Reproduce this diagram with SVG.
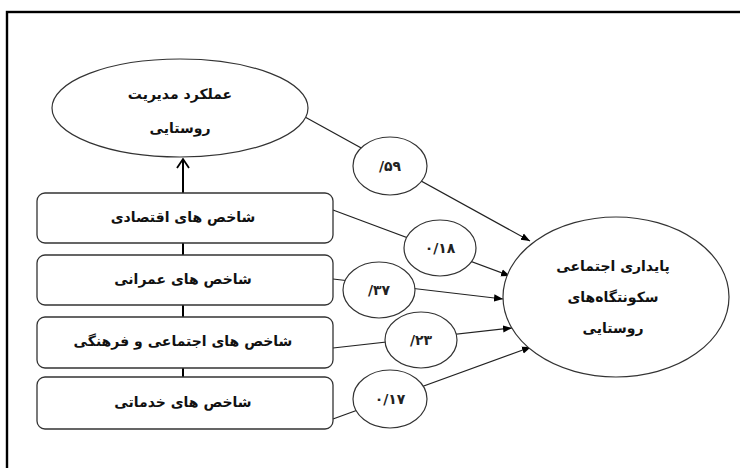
<svg xmlns="http://www.w3.org/2000/svg" width="740" height="468" viewBox="0 0 740 468">
<defs>
<marker id="tri" viewBox="0 0 10 10" refX="10" refY="5" markerWidth="9" markerHeight="9" markerUnits="userSpaceOnUse" orient="auto">
<path d="M0,1 L10,5 L0,9 Z" fill="#000"/>
</marker>
<marker id="open" viewBox="0 0 10 10" refX="5" refY="1" markerWidth="10" markerHeight="10" markerUnits="userSpaceOnUse" orient="auto-start-reverse">
<path d="M1,5 L9,1 L1,-3" fill="none" stroke="#000" stroke-width="1.6"/>
</marker>
<style>
.frame{fill:none;stroke:#000;stroke-width:2.4}
.box{fill:#fff;stroke:#333;stroke-width:1.3}
.ell{fill:#fff;stroke:#333;stroke-width:1.2}
.t{font-family:"DejaVu Sans",sans-serif;font-weight:bold;font-size:14px;fill:#111;text-anchor:middle;dominant-baseline:central}
.n{font-family:"DejaVu Sans",sans-serif;font-weight:bold;font-size:14px;fill:#222;text-anchor:middle;dominant-baseline:central;direction:ltr}
.c{stroke:#222;stroke-width:1.2;fill:none}
.v{stroke:#000;stroke-width:2;fill:none}
</style>
</defs>
<rect x="0" y="0" width="740" height="468" fill="#fff"/>
<rect class="frame" x="7" y="12" width="750" height="470"/>

<g id="connectors">
<line class="c" x1="305" y1="117" x2="530" y2="241" marker-end="url(#tri)"/>
<line class="c" x1="333" y1="210" x2="510" y2="276" marker-end="url(#tri)"/>
<line class="c" x1="333" y1="279" x2="503" y2="299" marker-end="url(#tri)"/>
<line class="c" x1="333" y1="348" x2="512" y2="328" marker-end="url(#tri)"/>
<line class="c" x1="333" y1="419" x2="531" y2="347" marker-end="url(#tri)"/>
<line class="v" x1="183" y1="193" x2="183" y2="160"/>
<path d="M177,168 L183,159 L189,168" fill="none" stroke="#000" stroke-width="1.8"/>
<line class="v" x1="183" y1="243" x2="183" y2="255"/>
<line class="v" x1="183" y1="305" x2="183" y2="317"/>
<line class="v" x1="183" y1="368" x2="183" y2="377"/>
</g>

<g id="node-management">
<ellipse class="ell" cx="180" cy="108" rx="128" ry="49"/>
<text class="t" x="180" y="94">عملکرد مدیریت</text>
<text class="t" x="180" y="128">روستایی</text>
</g>

<g id="node-economic">
<rect class="box" x="37" y="193" width="296" height="50" rx="8"/>
<text class="t" x="183" y="217">شاخص های اقتصادی</text>
</g>
<g id="node-construction">
<rect class="box" x="37" y="255" width="296" height="50" rx="8"/>
<text class="t" x="183" y="279">شاخص های عمرانی</text>
</g>
<g id="node-social">
<rect class="box" x="37" y="317" width="296" height="51" rx="8"/>
<text class="t" x="183" y="341">شاخص های اجتماعی و فرهنگی</text>
</g>
<g id="node-services">
<rect class="box" x="37" y="377" width="296" height="52" rx="8"/>
<text class="t" x="183" y="402">شاخص های خدماتی</text>
</g>

<g id="node-sustainability">
<ellipse class="ell" cx="616" cy="297" rx="113" ry="80"/>
<text class="t" x="613" y="266">پایداری اجتماعی</text>
<text class="t" x="613" y="297">سکونتگاه‌های</text>
<text class="t" x="613" y="328">روستایی</text>
</g>

<g id="label-59">
<ellipse class="ell" cx="390" cy="166" rx="37" ry="29"/>
<text class="n" x="390" y="166">/۵۹</text>
</g>
<g id="label-18">
<ellipse class="ell" cx="440" cy="248" rx="36" ry="28"/>
<text class="n" x="440" y="248">۰/۱۸</text>
</g>
<g id="label-37">
<ellipse class="ell" cx="379" cy="290" rx="36" ry="28"/>
<text class="n" x="379" y="290">/۳۷</text>
</g>
<g id="label-23">
<ellipse class="ell" cx="421" cy="340" rx="36" ry="28"/>
<text class="n" x="421" y="340">/۲۳</text>
</g>
<g id="label-17">
<ellipse class="ell" cx="390" cy="399" rx="37" ry="29"/>
<text class="n" x="390" y="399">۰/۱۷</text>
</g>
</svg>
